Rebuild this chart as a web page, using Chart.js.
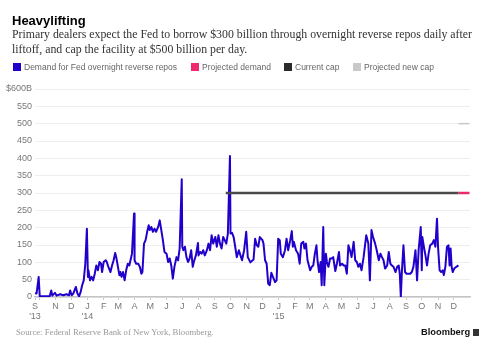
<!DOCTYPE html>
<html><head><meta charset="utf-8">
<script src="https://cdn.jsdelivr.net/npm/chart.js@4.4.0/dist/chart.umd.min.js"></script>
<style>
html,body{margin:0;padding:0;background:#fff;}
#wrap{position:relative;width:488px;height:352px;overflow:hidden;background:#fff;}
canvas{position:absolute;left:0;top:0;}
.t{position:absolute;white-space:nowrap;}
.lg{position:absolute;top:61px;font:8.5px 'Liberation Sans',Arial,sans-serif;color:#666;line-height:12px;white-space:nowrap;}
.sq{display:inline-block;width:8px;height:8px;margin-right:3px;vertical-align:-1px;}
</style></head><body>
<div id="wrap">
<canvas id="c" width="488" height="352"></canvas>
<div class="t" style="left:12px;top:13px;font:bold 13px 'Liberation Sans',Arial,sans-serif;line-height:15px;color:#000;">Heavylifting</div>
<div class="t" style="left:12px;top:27px;font:11.8px 'Liberation Serif',serif;line-height:15px;color:#333;">Primary dealers expect the Fed to borrow $300 billion through overnight reverse repos daily after<br>liftoff, and cap the facility at $500 billion per day.</div>
<div class="lg" style="left:13px;"><span class="sq" style="background:#2200cc"></span>Demand for Fed overnight reverse repos</div>
<div class="lg" style="left:191px;"><span class="sq" style="background:#f0286e"></span>Projected demand</div>
<div class="lg" style="left:284px;"><span class="sq" style="background:#2b2b2b"></span>Current cap</div>
<div class="lg" style="left:353px;"><span class="sq" style="background:#c8c8c8"></span>Projected new cap</div>
<div class="t" style="left:16px;top:326px;font:8.7px 'Liberation Serif',serif;line-height:12px;color:#999;">Source: Federal Reserve Bank of New York, Bloomberg.</div>
<div class="t" style="left:421px;top:326px;font:bold 9.3px 'Liberation Sans',Arial,sans-serif;line-height:12px;color:#111;">Bloomberg</div>
<div style="position:absolute;left:473px;top:329px;width:6px;height:7px;background:#333;"></div>
</div>
<script>
const startDate = '2013-09-23';
const endDate = '2016-01-01';
const demandDates = ['2013-09-23','2013-09-26','2013-09-30','2013-10-02','2013-10-12','2013-10-21','2013-10-24','2013-10-26','2013-10-31','2013-11-03','2013-11-10','2013-11-16','2013-11-22','2013-11-27','2013-11-29','2013-12-02','2013-12-05','2013-12-10','2013-12-13','2013-12-16','2013-12-19','2013-12-22','2013-12-25','2013-12-28','2013-12-31',
'2014-01-02','2014-01-03','2014-01-06','2014-01-09','2014-01-12','2014-01-15','2014-01-18','2014-01-21','2014-01-24','2014-01-27','2014-01-29','2014-02-01','2014-02-05','2014-02-07','2014-02-10','2014-02-14','2014-02-17','2014-02-20','2014-02-23','2014-02-25','2014-03-03','2014-03-05','2014-03-07','2014-03-10','2014-03-13','2014-03-16','2014-03-19','2014-03-22','2014-03-27','2014-03-31',
'2014-04-01','2014-04-04','2014-04-08','2014-04-11','2014-04-14','2014-04-16','2014-04-19','2014-04-22','2014-04-25','2014-04-28','2014-04-30','2014-05-03','2014-05-06','2014-05-09','2014-05-12','2014-05-16','2014-05-19','2014-05-22','2014-05-25','2014-05-28','2014-06-01','2014-06-04','2014-06-07','2014-06-10','2014-06-13','2014-06-16','2014-06-20','2014-06-23','2014-06-26','2014-06-30',
'2014-07-01','2014-07-03','2014-07-06','2014-07-09','2014-07-12','2014-07-15','2014-07-18','2014-07-21','2014-07-23','2014-07-27','2014-07-31','2014-08-01','2014-08-04','2014-08-07','2014-08-10','2014-08-13','2014-08-17','2014-08-20','2014-08-23','2014-08-26','2014-08-29','2014-09-02','2014-09-05','2014-09-08','2014-09-11','2014-09-14','2014-09-17','2014-09-20','2014-09-23','2014-09-26','2014-09-30',
'2014-10-01','2014-10-04','2014-10-07','2014-10-10','2014-10-13','2014-10-17','2014-10-20','2014-10-23','2014-10-27','2014-10-31','2014-11-03','2014-11-08','2014-11-14','2014-11-17','2014-11-20','2014-11-23','2014-11-26','2014-12-01','2014-12-03','2014-12-06','2014-12-09','2014-12-12','2014-12-15','2014-12-18','2014-12-21','2014-12-25','2014-12-28','2014-12-31',
'2015-01-03','2015-01-05','2015-01-09','2015-01-13','2015-01-16','2015-01-19','2015-01-23','2015-01-26','2015-01-28','2015-01-30','2015-02-03','2015-02-07','2015-02-10','2015-02-13','2015-02-17','2015-02-19','2015-02-22','2015-02-25','2015-03-02','2015-03-05','2015-03-08','2015-03-11','2015-03-14','2015-03-16','2015-03-19','2015-03-22','2015-03-24','2015-03-27','2015-03-29',
'2015-04-01','2015-04-03','2015-04-06','2015-04-09','2015-04-12','2015-04-15','2015-04-19','2015-04-22','2015-04-26','2015-04-28','2015-05-02','2015-05-05','2015-05-08','2015-05-11','2015-05-14','2015-05-17','2015-05-20','2015-05-24','2015-05-27','2015-05-30','2015-06-02','2015-06-05','2015-06-08','2015-06-12','2015-06-17','2015-06-21','2015-06-24','2015-06-27','2015-06-30',
'2015-07-04','2015-07-07','2015-07-11','2015-07-14','2015-07-17','2015-07-20','2015-07-23','2015-07-27','2015-07-30','2015-08-02','2015-08-05','2015-08-08','2015-08-12','2015-08-15','2015-08-18','2015-08-20','2015-08-22','2015-08-24','2015-08-27','2015-08-30','2015-09-02','2015-09-09','2015-09-12','2015-09-15','2015-09-19','2015-09-22','2015-09-25','2015-09-29',
'2015-10-01','2015-10-02','2015-10-05','2015-10-08','2015-10-11','2015-10-14','2015-10-17','2015-10-21','2015-10-24','2015-10-27','2015-10-30','2015-11-01','2015-11-04','2015-11-07','2015-11-10','2015-11-12','2015-11-15','2015-11-18','2015-11-21','2015-11-23','2015-11-25','2015-11-27','2015-11-29','2015-12-02','2015-12-06','2015-12-10'];
const demandValues = [11,10,58,2,2,2,19,4,12,4,8,5,8,5,19,5,10,29,10,2,14,34,48,96,197,
58,77,48,58,48,67,91,77,101,96,72,101,106,101,87,72,91,106,127,115,63,72,58,72,48,77,96,91,125,241,
106,96,96,87,67,72,154,164,188,207,193,202,188,197,188,202,221,193,164,130,125,101,111,91,53,87,115,106,140,340,
145,135,145,115,101,111,135,87,101,120,156,120,130,125,135,120,135,154,135,178,154,173,145,178,154,140,173,164,154,183,407,
183,185,173,145,115,135,120,106,135,188,115,100,108,168,150,145,173,164,154,106,96,38,34,70,58,43,48,168,
164,125,115,135,168,135,164,190,145,159,135,125,96,154,159,140,154,106,77,87,91,125,149,106,72,101,34,202,34,
125,101,87,111,111,115,75,96,130,91,96,91,91,67,149,135,115,159,106,101,87,96,77,115,178,154,48,193,173,
154,135,106,125,115,106,82,91,130,96,91,87,72,87,91,67,0,72,149,72,67,67,72,87,135,48,135,202,
77,173,145,120,91,125,149,154,164,145,226,145,77,72,77,63,87,145,149,91,140,87,72,82,87,91];
const currentCapDates = ['2014-09-22','2015-12-10'];
const currentCapValues = [300,300];
const projectedDemandDates = ['2015-12-10','2015-12-31'];
const projectedDemandValues = [300,300];
const projectedCapDates = ['2015-12-10','2015-12-31'];
const projectedCapValues = [500,500];
const monthLetters = ['J','F','M','A','M','J','J','A','S','O','N','D'];
const yTickMax = 600, yTickStep = 50;

function dayOf(s){const [y,m,d]=s.split('-').map(Number);const [y0,m0,d0]=startDate.split('-').map(Number);return Math.round((Date.UTC(y,m-1,d)-Date.UTC(y0,m0-1,d0))/86400000);}
function pts(ds,vs){return ds.map((d,i)=>({x:dayOf(d),y:vs[i]}));}

const tickMap = new Map();
tickMap.set(0, ['S', "'13"]);
for (let y=2013; y<=2015; y++) for (let m=0; m<12; m++) {
  const s = y+'-'+String(m+1).padStart(2,'0')+'-01';
  const d = dayOf(s);
  if (d <= 0 || d >= dayOf(endDate)) continue;
  let lab = monthLetters[m];
  if (y===2013 && m===9) lab = '';
  if (m===0) lab = [lab, "'"+String(y).slice(2)];
  tickMap.set(d, lab);
}

new Chart(document.getElementById('c'), {
  type: 'line',
  data: { datasets: [
    {data: pts(currentCapDates,currentCapValues), borderColor:'#4a4a4a', borderWidth:2.5, pointRadius:0},
    {data: pts(projectedDemandDates,projectedDemandValues), borderColor:'#f0286e', borderWidth:2.5, pointRadius:0},
    {data: pts(projectedCapDates,projectedCapValues), borderColor:'#c8c8c8', borderWidth:1.5, pointRadius:0},
    {data: pts(demandDates,demandValues), borderColor:'#2200cc', borderWidth:2, pointRadius:0, borderJoinStyle:'round'}
  ]},
  options: {
    responsive:false, animation:false, events:[],
    layout:{padding:{left:0,right:18,top:89,bottom:25}},
    plugins:{legend:{display:false}, tooltip:{enabled:false}},
    elements:{line:{tension:0}},
    scales:{
      x:{type:'linear', min:0, max:dayOf(endDate),
        afterBuildTicks:(sc)=>{sc.ticks=[...tickMap.keys()].sort((a,b)=>a-b).map(v=>({value:v}));},
        afterFit:(sc)=>{sc.height=30;},
        grid:{drawOnChartArea:false, tickLength:3, color:'#c8c8c8'},
        border:{color:'#c4c4c4', width:1.5},
        ticks:{autoSkip:false, maxRotation:0, padding:2, color:'#777', font:{family:'Liberation Sans', size:9, lineHeight:1.1},
          callback:(v)=>tickMap.has(v)?tickMap.get(v):''}
      },
      y:{min:0, max:yTickMax,
        afterFit:(sc)=>{sc.width=35;},
        grid:{color:'#eeeeee', drawTicks:false, tickLength:0},
        border:{display:false},
        ticks:{stepSize:yTickStep, padding:3, color:'#777', font:{family:'Liberation Sans', size:9},
          callback:(v)=>v===yTickMax?'$'+v+'B':String(v)}
      }
    }
  }
});
</script>
</body></html>
